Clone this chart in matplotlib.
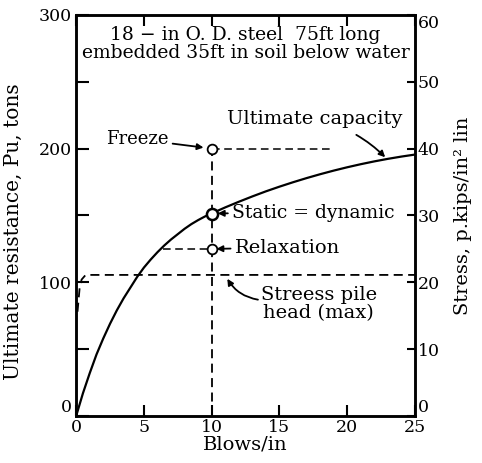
import matplotlib
matplotlib.use('Agg')
import matplotlib.pyplot as plt
from matplotlib.ticker import FixedLocator, NullFormatter

plt.rcParams['font.family'] = ['DejaVu Serif']

# ultimate capacity curve (tons) vs blows/in
blows = [0, 0.5, 1, 1.5, 2, 2.5, 3, 3.5, 4, 4.5, 5, 5.5, 6, 6.5, 7, 7.5, 8, 8.5, 9, 9.5,
         10, 11, 12, 13, 14, 15, 16, 17, 18, 19, 20, 21, 22, 23, 24, 25]
capacity = [0, 17, 32, 46, 58, 69, 79, 88, 96, 104, 111, 117, 122.5, 127.5, 132, 136, 140, 143.5, 146.5, 149.2,
            151.5, 156, 160.2, 164.2, 168, 171.5, 174.8, 177.9, 180.8, 183.5, 186, 188.3, 190.4, 192.3, 194, 195.5]

# stress at pile head (kips/in^2) vs blows/in
stress_blows = [0.1, 0.25, 0.4, 0.7, 25]
stress = [15.6, 19.0, 20.4, 21.1, 21.1]

# marked points at 10 blows/in
pt_blows = 10
freeze = 200
static_dyn = 151
relaxation = 125

fig = plt.figure(figsize=(4.82, 4.63), dpi=100)
ax = fig.add_axes([0.158, 0.1015, 0.703, 0.8665])
ax2 = ax.twinx()

for a in (ax, ax2):
    for s in a.spines.values():
        s.set_linewidth(1.8)

ax.plot(blows, capacity, color='black', lw=1.6, zorder=3)
ax2.plot(stress_blows, stress, color='black', lw=1.3, ls=(0, (5, 3)))

dash = (0, (5, 3))
ax.plot([pt_blows, pt_blows], [0, freeze], color='black', lw=1.3, ls=dash)
ax.plot([pt_blows, 19], [freeze, freeze], color='black', lw=1.1, ls=dash)
ax.plot([6.4, pt_blows], [relaxation, relaxation], color='black', lw=1.1, ls=dash)

ax.plot([pt_blows], [freeze], 'o', ms=7, mfc='white', mec='black', mew=1.3, zorder=5)
ax.plot([pt_blows], [static_dyn], 'o', ms=8, mfc='white', mec='black', mew=1.8, zorder=5)
ax.plot([pt_blows], [relaxation], 'o', ms=7, mfc='white', mec='black', mew=1.3, zorder=5)

ax.set_xlim(0, 25)
ax.set_ylim(0, 300)
ax2.set_ylim(0, 60)

ax.xaxis.set_major_locator(FixedLocator([0, 5, 10, 15, 20, 25]))
ax.yaxis.set_major_locator(FixedLocator([0, 100, 200, 300]))
ax.yaxis.set_minor_locator(FixedLocator([50, 150, 250]))
ax.yaxis.set_minor_formatter(NullFormatter())
ax2.yaxis.set_major_locator(FixedLocator([0, 10, 20, 30, 40, 50, 60]))

fs = 12.5
ax.tick_params(axis='x', direction='in', length=8, width=1.5, top=True, labelsize=fs, pad=2)
ax.tick_params(axis='y', which='both', direction='in', length=9, width=1.5, labelsize=fs, pad=3)
ax2.tick_params(axis='y', direction='in', length=6, width=1.5, labelsize=fs, pad=2)

# nudge the corner labels off the axis ends like the original
for lab in ax.get_yticklabels()[:1] + ax2.get_yticklabels()[:1]:
    lab.set_va('bottom')
ax2.get_yticklabels()[-1].set_va('top')

ax.set_xlabel('Blows/in', fontsize=14, labelpad=0)
ax.set_ylabel('Ultimate resistance, Pu, tons', fontsize=14.5)
ax.yaxis.set_label_coords(-0.157, 0.46)
ax2.set_ylabel('Stress, p.kips/in² lin', fontsize=14)
ax2.yaxis.set_label_coords(1.115, 0.5)

ax.text(12.5, 292, '18 − in O. D. steel  75ft long\nembedded 35ft in soil below water',
        ha='center', va='top', fontsize=13.5, linespacing=1.0)

afs = 14
arrow = dict(arrowstyle='-|>', color='black', lw=1.3, mutation_scale=9)
ax.annotate('Freeze', xy=(9.6, 200.5), xytext=(2.2, 207), fontsize=13,
            ha='left', va='center', arrowprops=dict(arrow, shrinkA=1, shrinkB=2))
ax.annotate('Static = dynamic', xy=(10.45, 151.5), xytext=(11.5, 152), fontsize=13.5,
            ha='left', va='center', arrowprops=dict(arrow, shrinkA=1, shrinkB=0))
ax.annotate('Relaxation', xy=(10.35, 125), xytext=(11.7, 126), fontsize=afs,
            ha='left', va='center', arrowprops=dict(arrow, shrinkA=1, shrinkB=0))
ax.annotate('Ultimate capacity', xy=(22.8, 193.5), xytext=(17.6, 222), fontsize=afs,
            ha='center', va='center',
            arrowprops=dict(arrow, shrinkA=6, shrinkB=0, connectionstyle='arc3,rad=-0.15'))
ax.annotate('Streess pile\nhead (max)', xy=(11.1, 103.5), xytext=(17.9, 84), fontsize=afs,
            ha='center', va='center', linespacing=1.0,
            arrowprops=dict(arrow, shrinkA=0, shrinkB=1, relpos=(0.0, 0.6),
                            connectionstyle='arc3,rad=-0.25'))

fig.savefig('out.png', dpi=100)
